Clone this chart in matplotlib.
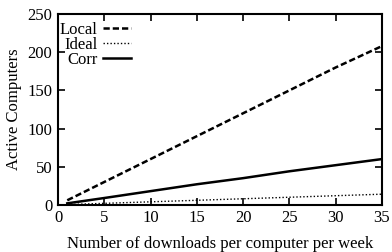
import matplotlib
matplotlib.use("Agg")
import matplotlib.pyplot as plt

x = [1, 5, 10, 15, 20, 25, 30, 35]
local = [6, 30, 60, 90, 120, 150, 180, 208]
ideal = [0.4, 2, 4, 6, 8, 10, 12, 14]
corr = [2, 9, 18, 27, 35, 44, 52, 60]
xticks = [0, 5, 10, 15, 20, 25, 30, 35]
yticks = [0, 50, 100, 150, 200, 250]

plt.rcParams['font.family'] = ['Liberation Serif', 'DejaVu Serif']
fig = plt.figure(figsize=(3.92, 2.52), dpi=100)
ax = fig.add_axes([0.148, 0.187, 0.826, 0.757])
ax.plot(x, local, color='black', linestyle=(0, (2.5, 1.2)), linewidth=1.8, label='Local')
ax.plot(x, ideal, color='black', linestyle=(0, (1, 1.5)), linewidth=1.0, label='Ideal')
ax.plot(x, corr, color='black', linestyle='-', linewidth=1.8, label='Corr')
ax.set_xlim(0, 35)
ax.set_ylim(0, 250)
ax.set_xticks(xticks)
ax.set_yticks(yticks)
ax.tick_params(direction='in', top=True, right=True, labelsize=12, length=5, width=1.2, pad=4)
for s in ax.spines.values():
    s.set_linewidth(1.5)
ax.set_xlabel('Number of downloads per computer per week', fontsize=12, labelpad=7)
ax.set_ylabel('Active Computers', fontsize=12, labelpad=4)
leg = ax.legend(loc='upper left', markerfirst=False, frameon=False, fontsize=12,
                handlelength=1.7, handletextpad=0.3, labelspacing=-0.05,
                borderpad=0.0, borderaxespad=0.0, bbox_to_anchor=(0.005, 0.96))
for t in leg.get_texts():
    t.set_ha('right')
fig.savefig('out.png', dpi=100)
